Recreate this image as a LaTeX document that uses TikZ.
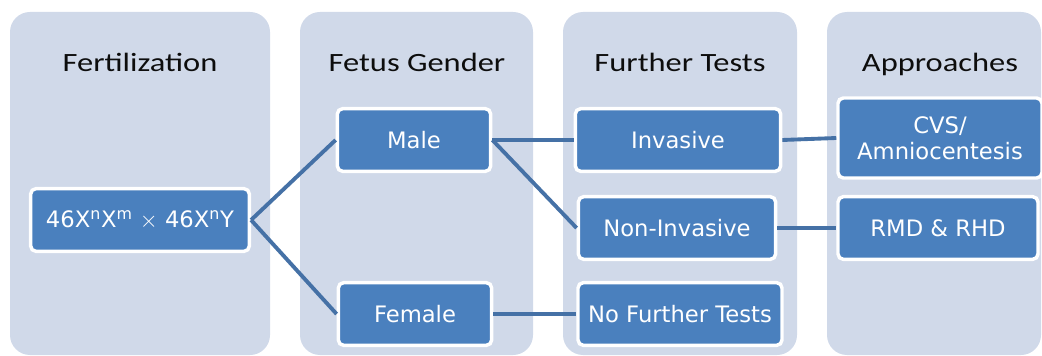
\documentclass[tikz,border=0pt]{standalone}
\usepackage{fontspec}
\setmainfont{DejaVu Sans}
\newfontfamily\headfont[FakeStretch=1.23]{Carlito}
\usetikzlibrary{positioning}

\definecolor{panelbg}{HTML}{D0D9E9}
\definecolor{boxblue}{HTML}{4A80BE}
\definecolor{linkblue}{HTML}{4571A6}
\definecolor{headtext}{HTML}{0D0D0D}

\begin{document}
\begin{tikzpicture}[
    x=0.75pt, y=-0.75pt,
    every node/.style={inner sep=2pt},
    panel/.style={fill=panelbg, rounded corners=15pt},
    head/.style={anchor=base, text=headtext, font=\headfont\fontsize{19.8}{22}\selectfont},
    box/.style={draw=white, line width=2.6pt, rounded corners=4pt, fill=boxblue,
                text=white, align=center, font=\fontsize{17}{19.5}\selectfont,
                minimum height=47pt},
    link/.style={draw=linkblue, line width=2.9pt}
]
\useasboundingbox (0,0) rectangle (1042,356);

% ================= Column backgrounds =================
\path[panel] (10,12) rectangle (270,355);
\path[panel] (300,12) rectangle (533,355);
\path[panel] (563,12) rectangle (797,355);
\path[panel] (827,12) rectangle (1041,355);

% ================= Column headers =================
\node[head] (hfert) at (140,72) {Fertilization};
\node[head] (hgender) at (417,72) {Fetus Gender};
\node[head] (htests) at (680,72) {Further Tests};
\node[head] (happr) at (940,72) {Approaches};

% ================= Boxes =================
\node[box, minimum width=164pt] (fert) at (140,220) {46X\textsuperscript{n}X\textsuperscript{m} $\times$ 46X\textsuperscript{n}Y};

\node[box, minimum width=115pt] (male) at (414,140) {Male};
\node[box, minimum width=115pt] (female) at (415,314) {Female};

\node[box, minimum width=154pt] (inv) at (678,140) {Invasive};
\node[box, minimum width=148pt] (noninv) at (677,228) {Non-Invasive};
\node[box, minimum width=153pt] (nofurther) at (680,314) {No Further Tests};

\node[box, minimum width=153pt, minimum height=60pt] (cvs) at (940,138) {CVS/\\Amniocentesis};
\node[box, minimum width=150pt] (rmd) at (938,228) {RMD \& RHD};

% ================= Connectors =================
\draw[link] (fert.east) -- (male.west);
\draw[link] (fert.east) -- (female.west);
\draw[link] (male.east) -- (inv.west);
\draw[link] (male.east) -- (noninv.west);
\draw[link] (female.east) -- (nofurther.west);
\draw[link] (inv.east) -- (cvs.west);
\draw[link] (noninv.east) -- (rmd.west);

\end{tikzpicture}
\end{document}
